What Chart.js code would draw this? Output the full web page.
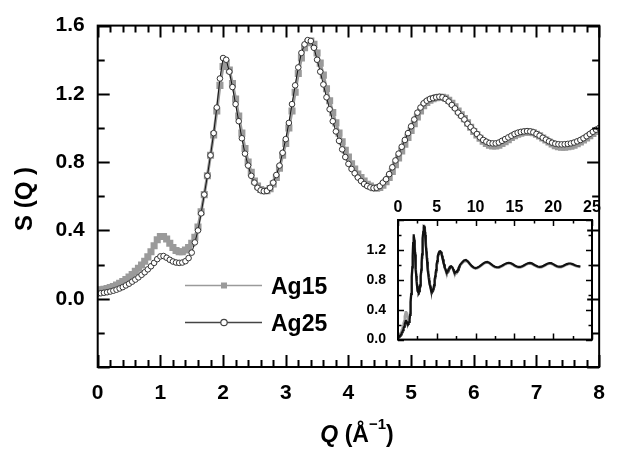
<!DOCTYPE html>
<html>
<head>
<meta charset="utf-8">
<script src="https://cdn.jsdelivr.net/npm/chart.js@4.4.1/dist/chart.umd.min.js"></script>
<style>
  html, body { margin: 0; padding: 0; background: #fff; }
  #wrap { position: relative; width: 619px; height: 450px; }
  #mainChart { position: absolute; left: 0; top: 0; }
  #insetChart { position: absolute; left: 356px; top: 194px; }
</style>
</head>
<body>
<div id="wrap">
  <canvas id="mainChart" width="619" height="450"></canvas>
  <canvas id="insetChart" width="252" height="166"></canvas>
</div>
<script>
// Q grid of the main panel (Å^-1)
const qMain = [
  0.00, 0.05, 0.10, 0.15, 0.20, 0.25, 0.30, 0.35, 0.40, 0.45,
  0.50, 0.55, 0.60, 0.65, 0.70, 0.75, 0.80, 0.85, 0.90, 0.95,
  1.00, 1.05, 1.10, 1.15, 1.20, 1.25, 1.30, 1.35, 1.40, 1.45,
  1.50, 1.55, 1.60, 1.65, 1.70, 1.75, 1.80, 1.85, 1.90, 1.95,
  2.00, 2.05, 2.10, 2.15, 2.20, 2.25, 2.30, 2.35, 2.40, 2.45,
  2.50, 2.55, 2.60, 2.65, 2.70, 2.75, 2.80, 2.85, 2.90, 2.95,
  3.00, 3.05, 3.10, 3.15, 3.20, 3.25, 3.30, 3.35, 3.40, 3.45,
  3.50, 3.55, 3.60, 3.65, 3.70, 3.75, 3.80, 3.85, 3.90, 3.95,
  4.00, 4.05, 4.10, 4.15, 4.20, 4.25, 4.30, 4.35, 4.40, 4.45,
  4.50, 4.55, 4.60, 4.65, 4.70, 4.75, 4.80, 4.85, 4.90, 4.95,
  5.00, 5.05, 5.10, 5.15, 5.20, 5.25, 5.30, 5.35, 5.40, 5.45,
  5.50, 5.55, 5.60, 5.65, 5.70, 5.75, 5.80, 5.85, 5.90, 5.95,
  6.00, 6.05, 6.10, 6.15, 6.20, 6.25, 6.30, 6.35, 6.40, 6.45,
  6.50, 6.55, 6.60, 6.65, 6.70, 6.75, 6.80, 6.85, 6.90, 6.95,
  7.00, 7.05, 7.10, 7.15, 7.20, 7.25, 7.30, 7.35, 7.40, 7.45,
  7.50, 7.55, 7.60, 7.65, 7.70, 7.75, 7.80, 7.85, 7.90, 7.95,
  8.00
];

const ag15Main = [
  0.050, 0.052, 0.055, 0.060, 0.065, 0.072, 0.080, 0.090, 0.100, 0.113,
  0.127, 0.142, 0.160, 0.178, 0.198, 0.220, 0.245, 0.275, 0.310, 0.345,
  0.365, 0.365, 0.350, 0.325, 0.300, 0.283, 0.275, 0.275, 0.285, 0.300,
  0.325, 0.360, 0.420, 0.510, 0.610, 0.720, 0.840, 0.960, 1.100, 1.250,
  1.360, 1.380, 1.340, 1.260, 1.170, 1.070, 0.970, 0.880, 0.800, 0.740,
  0.690, 0.660, 0.640, 0.632, 0.632, 0.645, 0.672, 0.710, 0.765, 0.840,
  0.910, 1.000, 1.100, 1.210, 1.320, 1.410, 1.470, 1.500, 1.510, 1.490,
  1.440, 1.380, 1.310, 1.230, 1.160, 1.090, 1.030, 0.970, 0.920, 0.870,
  0.830, 0.790, 0.760, 0.730, 0.710, 0.690, 0.670, 0.660, 0.650, 0.648,
  0.652, 0.665, 0.685, 0.710, 0.745, 0.785, 0.825, 0.865, 0.905, 0.945,
  0.985, 1.025, 1.065, 1.100, 1.130, 1.150, 1.163, 1.172, 1.178, 1.180,
  1.180, 1.175, 1.162, 1.145, 1.125, 1.100, 1.078, 1.055, 1.030, 1.005,
  0.980, 0.960, 0.940, 0.922, 0.910, 0.900, 0.895, 0.895, 0.900, 0.910,
  0.920, 0.932, 0.944, 0.955, 0.964, 0.970, 0.975, 0.977, 0.976, 0.972,
  0.964, 0.954, 0.942, 0.930, 0.918, 0.906, 0.897, 0.891, 0.888, 0.888,
  0.890, 0.894, 0.900, 0.908, 0.918, 0.930, 0.942, 0.955, 0.968, 0.980,
  0.990
];

const ag25Main = [
  0.030, 0.032, 0.035, 0.038, 0.042, 0.047, 0.053, 0.060, 0.068, 0.078,
  0.088, 0.100, 0.112, 0.125, 0.140, 0.155, 0.172, 0.190, 0.210, 0.232,
  0.248, 0.250, 0.240, 0.228, 0.218, 0.212, 0.210, 0.212, 0.220, 0.238,
  0.270, 0.330, 0.400, 0.500, 0.610, 0.720, 0.840, 0.970, 1.120, 1.290,
  1.410, 1.400, 1.330, 1.240, 1.140, 1.040, 0.940, 0.850, 0.780, 0.720,
  0.680, 0.650, 0.635, 0.630, 0.632, 0.650, 0.680, 0.725, 0.780, 0.855,
  0.935, 1.030, 1.140, 1.250, 1.355, 1.440, 1.490, 1.515, 1.510, 1.470,
  1.400, 1.330, 1.255, 1.180, 1.110, 1.040, 0.980, 0.925, 0.875, 0.830,
  0.790, 0.760, 0.735, 0.710, 0.690, 0.672, 0.660, 0.652, 0.648, 0.650,
  0.660, 0.680, 0.700, 0.730, 0.770, 0.810, 0.850, 0.890, 0.930, 0.970,
  1.010, 1.050, 1.090, 1.120, 1.145, 1.160, 1.170, 1.175, 1.180, 1.183,
  1.180, 1.170, 1.155, 1.135, 1.115, 1.090, 1.070, 1.050, 1.025, 1.005,
  0.985, 0.965, 0.945, 0.930, 0.920, 0.912, 0.910, 0.910, 0.915, 0.925,
  0.935, 0.945, 0.955, 0.965, 0.972, 0.977, 0.980, 0.982, 0.980, 0.975,
  0.965, 0.955, 0.943, 0.932, 0.922, 0.914, 0.908, 0.905, 0.904, 0.905,
  0.907, 0.910, 0.915, 0.922, 0.930, 0.940, 0.952, 0.965, 0.978, 0.990,
  1.000
];

// high-Q part shown only in the inset
const qTail = [
  8.25, 8.50, 8.75, 9.00, 9.25, 9.50, 9.75, 10.00, 10.25, 10.50,
  10.75, 11.00, 11.25, 11.50, 11.75, 12.00, 12.25, 12.50, 12.75, 13.00,
  13.25, 13.50, 13.75, 14.00, 14.25, 14.50, 14.75, 15.00, 15.25, 15.50,
  15.75, 16.00, 16.25, 16.50, 16.75, 17.00, 17.25, 17.50, 17.75, 18.00,
  18.25, 18.50, 18.75, 19.00, 19.25, 19.50, 19.75, 20.00, 20.25, 20.50,
  20.75, 21.00, 21.25, 21.50, 21.75, 22.00, 22.25, 22.50, 22.75, 23.00,
  23.25, 23.50
];

const ag15Tail = [
  1.020, 1.045, 1.052, 1.038, 1.008, 0.978, 0.958, 0.950, 0.956, 0.972,
  0.992, 1.012, 1.027, 1.032, 1.022, 1.002, 0.982, 0.967, 0.960, 0.962,
  0.972, 0.987, 1.002, 1.014, 1.020, 1.017, 1.004, 0.987, 0.972, 0.964,
  0.964, 0.972, 0.987, 1.002, 1.014, 1.018, 1.012, 0.997, 0.982, 0.969,
  0.964, 0.968, 0.980, 0.994, 1.008, 1.016, 1.014, 1.002, 0.987, 0.974,
  0.967, 0.968, 0.977, 0.990, 1.002, 1.010, 1.010, 1.002, 0.990, 0.980,
  0.974, 0.970
];

const ag25Tail = [
  1.030, 1.058, 1.065, 1.048, 1.015, 0.985, 0.965, 0.958, 0.965, 0.980,
  1.000, 1.020, 1.035, 1.040, 1.030, 1.010, 0.990, 0.975, 0.968, 0.970,
  0.980, 0.995, 1.010, 1.022, 1.028, 1.025, 1.012, 0.995, 0.980, 0.972,
  0.972, 0.980, 0.995, 1.010, 1.022, 1.026, 1.020, 1.005, 0.990, 0.977,
  0.972, 0.976, 0.988, 1.002, 1.016, 1.024, 1.022, 1.010, 0.995, 0.982,
  0.975, 0.976, 0.985, 0.998, 1.010, 1.018, 1.018, 1.010, 0.998, 0.988,
  0.982, 0.978
];

const seriesNames = ['Ag15', 'Ag25'];
const mainXTicks = [0, 1, 2, 3, 4, 5, 6, 7, 8];
const mainYTicks = [0.0, 0.4, 0.8, 1.2, 1.6];
const insetXTicks = [0, 5, 10, 15, 20, 25];
const insetYTicks = [0.0, 0.4, 0.8, 1.2];

const FONT = '"Liberation Sans", Arial, sans-serif';

function pts(xs, ys) {
  return xs.map((q, i) => ({ x: q, y: ys[i] }));
}

// frame with inward major / minor ticks on all four sides
const axisFrame = {
  id: 'axisFrame',
  afterDatasetsDraw(chart, args, o) {
    const { ctx, chartArea: a, scales } = chart;
    const x = scales.x, y = scales.y;
    ctx.save();
    ctx.strokeStyle = '#000';
    ctx.lineWidth = o.tickWidth;
    ctx.beginPath();
    const nx = Math.round((x.max - x.min) / o.xMinor);
    for (let i = 0; i <= nx; i++) {
      const px = Math.round(x.getPixelForValue(x.min + i * o.xMinor)) + 0.5;
      const len = (i % o.xEvery === 0) ? o.major : o.minor;
      ctx.moveTo(px, a.bottom); ctx.lineTo(px, a.bottom - len);
      ctx.moveTo(px, a.top); ctx.lineTo(px, a.top + len);
    }
    const ny = Math.round((y.max - y.min) / o.yMinor);
    for (let i = 0; i <= ny; i++) {
      const py = Math.round(y.getPixelForValue(y.min + i * o.yMinor)) + 0.5;
      const len = (i % o.yEvery === 0) ? o.major : o.minor;
      ctx.moveTo(a.left, py); ctx.lineTo(a.left + len, py);
      ctx.moveTo(a.right, py); ctx.lineTo(a.right - len, py);
    }
    ctx.stroke();
    ctx.lineWidth = o.frame;
    ctx.strokeRect(a.left, a.top, a.right - a.left, a.bottom - a.top);
    ctx.restore();
  }
};

// axis titles and the in-plot legend of the main panel
const mainDecor = {
  id: 'mainDecor',
  afterDraw(chart) {
    const { ctx, chartArea: a } = chart;
    ctx.save();
    ctx.fillStyle = '#000';
    ctx.textBaseline = 'alphabetic';

    // x title: Q (Å^-1)
    const big = 'bold 23px ' + FONT;
    const ital = 'italic bold 23px ' + FONT;
    const sup = 'bold 15px ' + FONT;
    ctx.font = ital; const wQ = ctx.measureText('Q').width;
    ctx.font = big; const wA = ctx.measureText(' (Å').width;
    ctx.font = sup; const wS = ctx.measureText('−1').width;
    ctx.font = big; const wP = ctx.measureText(')').width;
    let tx = 357 - (wQ + wA + wS + wP) / 2;
    const base = 442;
    ctx.textAlign = 'left';
    ctx.font = ital; ctx.fillText('Q', tx, base); tx += wQ;
    ctx.font = big; ctx.fillText(' (Å', tx, base); tx += wA;
    ctx.font = sup; ctx.fillText('−1', tx, base - 13); tx += wS;
    ctx.font = big; ctx.fillText(')', tx, base);

    // y title
    ctx.translate(25, 199);
    ctx.rotate(-Math.PI / 2);
    ctx.textAlign = 'center';
    ctx.textBaseline = 'middle';
    ctx.font = 'bold 24px ' + FONT;
    ctx.fillText('S (Q )', 0, 0);
    ctx.setTransform(1, 0, 0, 1, 0, 0);

    // legend
    const lx0 = 185, lx1 = 262, lxm = 224;
    ctx.lineWidth = 1.5;
    ctx.strokeStyle = '#9a9a9a';
    ctx.beginPath(); ctx.moveTo(lx0, 285.5); ctx.lineTo(lx1, 285.5); ctx.stroke();
    ctx.fillStyle = '#9a9a9a';
    ctx.fillRect(lxm - 3, 282.5, 6, 6);
    ctx.strokeStyle = '#444';
    ctx.beginPath(); ctx.moveTo(lx0, 322.5); ctx.lineTo(lx1, 322.5); ctx.stroke();
    ctx.fillStyle = '#fff';
    ctx.lineWidth = 1.2;
    ctx.beginPath(); ctx.arc(lxm, 322.5, 3.2, 0, Math.PI * 2); ctx.fill(); ctx.stroke();
    ctx.fillStyle = '#000';
    ctx.font = 'bold 23px ' + FONT;
    ctx.textAlign = 'left';
    ctx.textBaseline = 'middle';
    ctx.fillText(seriesNames[0], 271, 288);
    ctx.fillText(seriesNames[1], 271, 325);
    ctx.restore();
  }
};

function fmt(v) {
  return Math.abs(v) < 1e-6 ? '0.0' : v.toFixed(1);
}

new Chart(document.getElementById('mainChart'), {
  type: 'line',
  data: {
    datasets: [
      {
        label: seriesNames[1],
        data: pts(qMain, ag25Main),
        order: 0,
        borderColor: '#111',
        borderWidth: 1,
        pointStyle: 'circle',
        pointRadius: 2.8,
        pointBorderWidth: 1,
        pointBorderColor: '#333',
        pointBackgroundColor: '#fff',
        tension: 0
      },
      {
        label: seriesNames[0],
        data: pts(qMain, ag15Main),
        order: 1,
        borderColor: '#9a9a9a',
        borderWidth: 3,
        pointStyle: 'rect',
        pointRadius: 5,
        pointBorderWidth: 0,
        pointBackgroundColor: '#9a9a9a',
        tension: 0
      }
    ]
  },
  options: {
    responsive: false,
    animation: false,
    events: [],
    layout: { padding: { top: 24, right: 5, left: 0, bottom: 0 } },
    scales: {
      x: {
        type: 'linear',
        min: 0,
        max: 8,
        afterFit: s => { s.height = 83; },
        afterBuildTicks: s => { s.ticks = mainXTicks.map(v => ({ value: v })); },
        grid: { display: false, drawTicks: false },
        border: { display: false },
        ticks: { padding: 14, color: '#000', font: { family: FONT, size: 21, weight: 'bold' }, maxRotation: 0 }
      },
      y: {
        min: -0.4,
        max: 1.6,
        afterFit: s => { s.width = 97.7; },
        afterBuildTicks: s => { s.ticks = mainYTicks.map(v => ({ value: v })); },
        grid: { display: false, drawTicks: false },
        border: { display: false },
        ticks: { padding: 13, color: '#000', font: { family: FONT, size: 21, weight: 'bold' }, callback: fmt }
      }
    },
    plugins: {
      legend: { display: false },
      tooltip: { enabled: false },
      axisFrame: { frame: 2, tickWidth: 2, major: 12, minor: 7, xMinor: 0.2, xEvery: 5, yMinor: 0.2, yEvery: 2 }
    }
  },
  plugins: [axisFrame, mainDecor]
});

// inset: full Q range
new Chart(document.getElementById('insetChart'), {
  type: 'line',
  data: {
    datasets: [
      {
        label: seriesNames[1],
        data: pts(qMain.concat(qTail), ag25Main.concat(ag25Tail)),
        order: 0,
        borderColor: '#111',
        borderWidth: 2.2,
        pointRadius: 0,
        tension: 0
      },
      {
        label: seriesNames[0],
        data: pts(qMain.concat(qTail), ag15Main.concat(ag15Tail)),
        order: 1,
        borderColor: '#a0a0a0',
        borderWidth: 2.5,
        pointRadius: 0,
        tension: 0
      }
    ]
  },
  options: {
    responsive: false,
    animation: false,
    events: [],
    layout: { padding: { top: 0, right: 16, left: 0, bottom: 10.5 } },
    scales: {
      x: {
        type: 'linear',
        position: 'top',
        min: 0,
        max: 25,
        afterFit: s => { s.height = 26; },
        afterBuildTicks: s => { s.ticks = insetXTicks.map(v => ({ value: v })); },
        grid: { display: false, drawTicks: false },
        border: { display: false },
        ticks: { padding: 3, color: '#000', font: { family: FONT, size: 16, weight: 'bold' }, maxRotation: 0 }
      },
      y: {
        min: 0,
        max: 1.6,
        afterFit: s => { s.width = 42; },
        afterBuildTicks: s => { s.ticks = insetYTicks.map(v => ({ value: v })); },
        grid: { display: false, drawTicks: false },
        border: { display: false },
        ticks: { padding: 12, color: '#000', font: { family: FONT, size: 14, weight: 'bold' }, callback: fmt }
      }
    },
    plugins: {
      legend: { display: false },
      tooltip: { enabled: false },
      axisFrame: { frame: 2, tickWidth: 1.5, major: 6, minor: 3.5, xMinor: 2.5, xEvery: 2, yMinor: 0.2, yEvery: 2 }
    }
  },
  plugins: [axisFrame]
});
</script>
</body>
</html>
